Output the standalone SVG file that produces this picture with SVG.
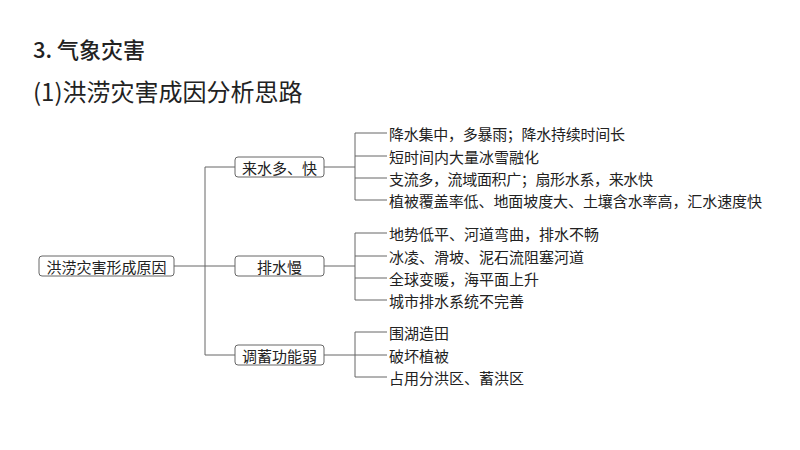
<svg xmlns="http://www.w3.org/2000/svg" width="800" height="450" viewBox="0 0 800 450">
<style>
text{font-family:"Noto Sans CJK SC","Liberation Serif",serif;fill:#222}
.t{font-size:15px;dominant-baseline:central}
.n{font-size:15px;dominant-baseline:central;text-anchor:middle}
.b{fill:#fff;stroke:#666;stroke-width:1}
.c{fill:none;stroke:#666;stroke-width:1}
</style>
<rect width="800" height="450" fill="#fff"/>
<text x="33" y="58" font-size="22" font-weight="500">3. 气象灾害</text>
<text x="33" y="101" font-size="24">(1)洪涝灾害成因分析思路</text>
<g id="connectors">
<path class="c" d="M174 266H235M205 167V355M205 167H235M205 355H235M324 167H355M324 266H355M324 355H355"/>
<path class="c" d="M355 133V200M355 133H387M355 156H387M355 178H387M355 200H387"/>
<path class="c" d="M355 233V300M355 233H387M355 256H387M355 278H387M355 300H387"/>
<path class="c" d="M355 332V377M355 332H387M355 355H387M355 377H387"/>
</g>
<g id="root"><rect class="b" x="39" y="256" width="135" height="20" rx="3"/><text class="n" x="106.5" y="266">洪涝灾害形成原因</text></g>
<g id="n1"><rect class="b" x="235" y="157" width="89" height="20" rx="3"/><text class="n" x="279.5" y="167">来水多、快</text></g>
<g id="n2"><rect class="b" x="235" y="256" width="89" height="20" rx="3"/><text class="n" x="279.5" y="266">排水慢</text></g>
<g id="n3"><rect class="b" x="235" y="345" width="89" height="20" rx="3"/><text class="n" x="279.5" y="355">调蓄功能弱</text></g>
<g id="leaves">
<text class="t" x="389" y="133" textLength="236">降水集中，多暴雨；降水持续时间长</text>
<text class="t" x="389" y="156">短时间内大量冰雪融化</text>
<text class="t" x="389" y="178" textLength="264">支流多，流域面积广；扇形水系，来水快</text>
<text class="t" x="389" y="200" textLength="373">植被覆盖率低、地面坡度大、土壤含水率高，汇水速度快</text>
<text class="t" x="389" y="233">地势低平、河道弯曲，排水不畅</text>
<text class="t" x="389" y="256">冰凌、滑坡、泥石流阻塞河道</text>
<text class="t" x="389" y="278">全球变暖，海平面上升</text>
<text class="t" x="389" y="300">城市排水系统不完善</text>
<text class="t" x="389" y="332">围湖造田</text>
<text class="t" x="389" y="355">破坏植被</text>
<text class="t" x="389" y="377">占用分洪区、蓄洪区</text>
</g>
</svg>
